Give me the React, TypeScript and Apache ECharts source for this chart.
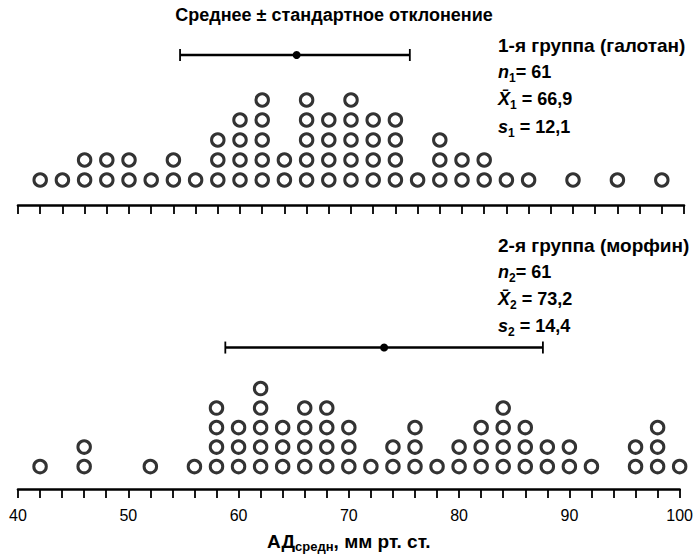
import React, { useEffect, useRef } from 'react';
import * as echarts from 'echarts';

// Group 1 (halothane): pressure value -> number of patients
const values1 = [42, 44, 46, 48, 50, 52, 54, 56, 58, 60, 62, 64, 66, 68, 70, 72, 74, 76, 78, 80, 82, 84, 86, 90, 94, 98];
const counts1 = [1, 1, 2, 2, 2, 1, 2, 1, 3, 4, 5, 2, 5, 4, 5, 4, 4, 1, 3, 2, 2, 1, 1, 1, 1, 1];
// Group 2 (morphine)
const values2 = [42, 46, 52, 56, 58, 60, 62, 64, 66, 68, 70, 72, 74, 76, 78, 80, 82, 84, 86, 88, 90, 92, 96, 98, 100];
const counts2 = [1, 2, 1, 1, 4, 3, 5, 3, 4, 4, 3, 1, 2, 3, 1, 2, 3, 4, 3, 2, 2, 1, 2, 3, 1];
// mean ± SD bars as drawn: [low, mean, high]
const bar1 = [54.6, 65.1, 75.3];
const bar2 = [58.8, 73.2, 87.6];

const groupNames = ['1-я группа (галотан)', '2-я группа (морфин)'];
const nValues = ['61', '61'];
const meanValues = ['66,9', '73,2'];
const sdValues = ['12,1', '14,4'];
const tickLabels = ['40', '50', '60', '70', '80', '90', '100'];
const titleText = 'Среднее ± стандартное отклонение';

const FONT = '"Liberation Sans", Arial, Helvetica, sans-serif';

function toPoints(xs: number[], cs: number[]) {
  const pts: number[][] = [];
  xs.forEach((x, i) => {
    for (let k = 1; k <= cs[i]; k++) pts.push([x, k]);
  });
  return pts;
}

export default function App() {
  const ref = useRef<HTMLDivElement>(null);
  useEffect(() => {
    const chart = echarts.init(ref.current!, null, { renderer: 'svg' });

    const xAxisBase = (showLabels: boolean, gridIndex: number) => ({
      type: 'value',
      gridIndex,
      min: 40,
      max: 100,
      interval: 2,
      axisLine: { show: true, onZero: false, lineStyle: { color: '#000', width: 2.6 } },
      axisTick: { show: true, length: 9, lineStyle: { color: '#000', width: 1.8 } },
      splitLine: { show: false },
      axisLabel: {
        show: showLabels,
        margin: 18,
        color: '#000',
        fontFamily: FONT,
        fontSize: 16,
        formatter: (v: number) => (tickLabels.includes(String(v)) ? String(v) : ''),
      },
    });

    const yAxisBase = (gridIndex: number, min: number) => ({
      type: 'value',
      gridIndex,
      min,
      max: 8,
      show: false,
    });

    const errRender = (params: any, api: any) => {
      const y = api.value(3);
      const lo = api.coord([api.value(0), y]);
      const mid = api.coord([api.value(1), y]);
      const hi = api.coord([api.value(2), y]);
      const st = { stroke: '#000', lineWidth: 2.6 };
      return {
        type: 'group',
        children: [
          { type: 'line', shape: { x1: lo[0], y1: lo[1], x2: hi[0], y2: hi[1] }, style: st },
          { type: 'line', shape: { x1: lo[0], y1: lo[1] - 6, x2: lo[0], y2: lo[1] + 6 }, style: { stroke: '#000', lineWidth: 1.8 } },
          { type: 'line', shape: { x1: hi[0], y1: hi[1] - 6, x2: hi[0], y2: hi[1] + 6 }, style: { stroke: '#000', lineWidth: 1.8 } },
          { type: 'circle', shape: { cx: mid[0], cy: mid[1], r: 4 }, style: { fill: '#000' } },
        ],
      };
    };

    const scatterStyle = {
      symbol: 'circle',
      symbolSize: 12.5,
      itemStyle: { color: '#fff', borderColor: '#000', borderWidth: 3 },
    };

    const rich = {
      h: { fontFamily: FONT, fontWeight: 'bold', fontSize: 19, lineHeight: 24, color: '#000' },
      b: { fontFamily: FONT, fontWeight: 'bold', fontSize: 18, lineHeight: 24, color: '#000' },
      i: { fontFamily: FONT, fontWeight: 'bold', fontStyle: 'italic', fontSize: 18, lineHeight: 24, color: '#000' },
      sub: { fontFamily: FONT, fontWeight: 'bold', fontSize: 12, lineHeight: 12, verticalAlign: 'bottom', color: '#000' },
      axb: { fontFamily: FONT, fontWeight: 'bold', fontSize: 19, lineHeight: 24, color: '#000' },
      axsub: { fontFamily: FONT, fontWeight: 'bold', fontSize: 13, lineHeight: 12, verticalAlign: 'bottom', color: '#000' },
    };

    const infoTexts = (g: number, centers: number[]) => {
      const idx = g + 1;
      const lines = [
        `{h|${groupNames[g]}}`,
        `{i|n}{sub|${idx}}{b|= ${nValues[g]}}`,
        `{i|X\u0304}{sub|${idx}}{b| = ${meanValues[g]}}`,
        `{i|s}{sub|${idx}}{b| = ${sdValues[g]}}`,
      ];
      return lines.map((t, j) => ({
        type: 'text',
        x: 498,
        y: centers[j],
        style: { text: t, rich, verticalAlign: 'middle', align: 'left' },
      }));
    };

    const option: any = {
      animation: false,
      backgroundColor: '#fff',
      grid: [
        { left: 18, right: 12, top: 40, bottom: 349 },
        { left: 18, right: 12, top: 330, bottom: 61 },
      ],
      xAxis: [
        xAxisBase(false, 0),
        {
          ...xAxisBase(true, 1),
          name: '{axb|АД}{axsub|средн}{axb|, мм рт. ст.}',
          nameLocation: 'middle',
          nameGap: 40,
          nameTextStyle: { rich },
        },
      ],
      yAxis: [yAxisBase(0, -0.25), yAxisBase(1, -0.15)],
      series: [
        { type: 'scatter', xAxisIndex: 0, yAxisIndex: 0, data: toPoints(values1, counts1), ...scatterStyle },
        { type: 'scatter', xAxisIndex: 1, yAxisIndex: 1, data: toPoints(values2, counts2), ...scatterStyle },
        {
          type: 'custom', xAxisIndex: 0, yAxisIndex: 0, renderItem: errRender,
          encode: { x: [0, 1, 2], y: 3 },
          data: [[bar1[0], bar1[1], bar1[2], 7.25]],
        },
        {
          type: 'custom', xAxisIndex: 1, yAxisIndex: 1, renderItem: errRender,
          encode: { x: [0, 1, 2], y: 3 },
          data: [[bar2[0], bar2[1], bar2[2], 7.1]],
        },
      ],
      graphic: [
        {
          type: 'text',
          x: 334,
          y: 15,
          style: {
            text: titleText,
            font: `bold 18px ${FONT}`,
            fill: '#000',
            align: 'center',
            verticalAlign: 'middle',
          },
        },
        ...infoTexts(0, [45, 72, 99, 127]),
        ...infoTexts(1, [245, 272, 299, 326]),
      ],
    };
    chart.setOption(option);
    return () => chart.dispose();
  }, []);
  return <div ref={ref} style={{ position: 'fixed', left: 0, top: 0, width: 696, height: 554 }} />;
}
